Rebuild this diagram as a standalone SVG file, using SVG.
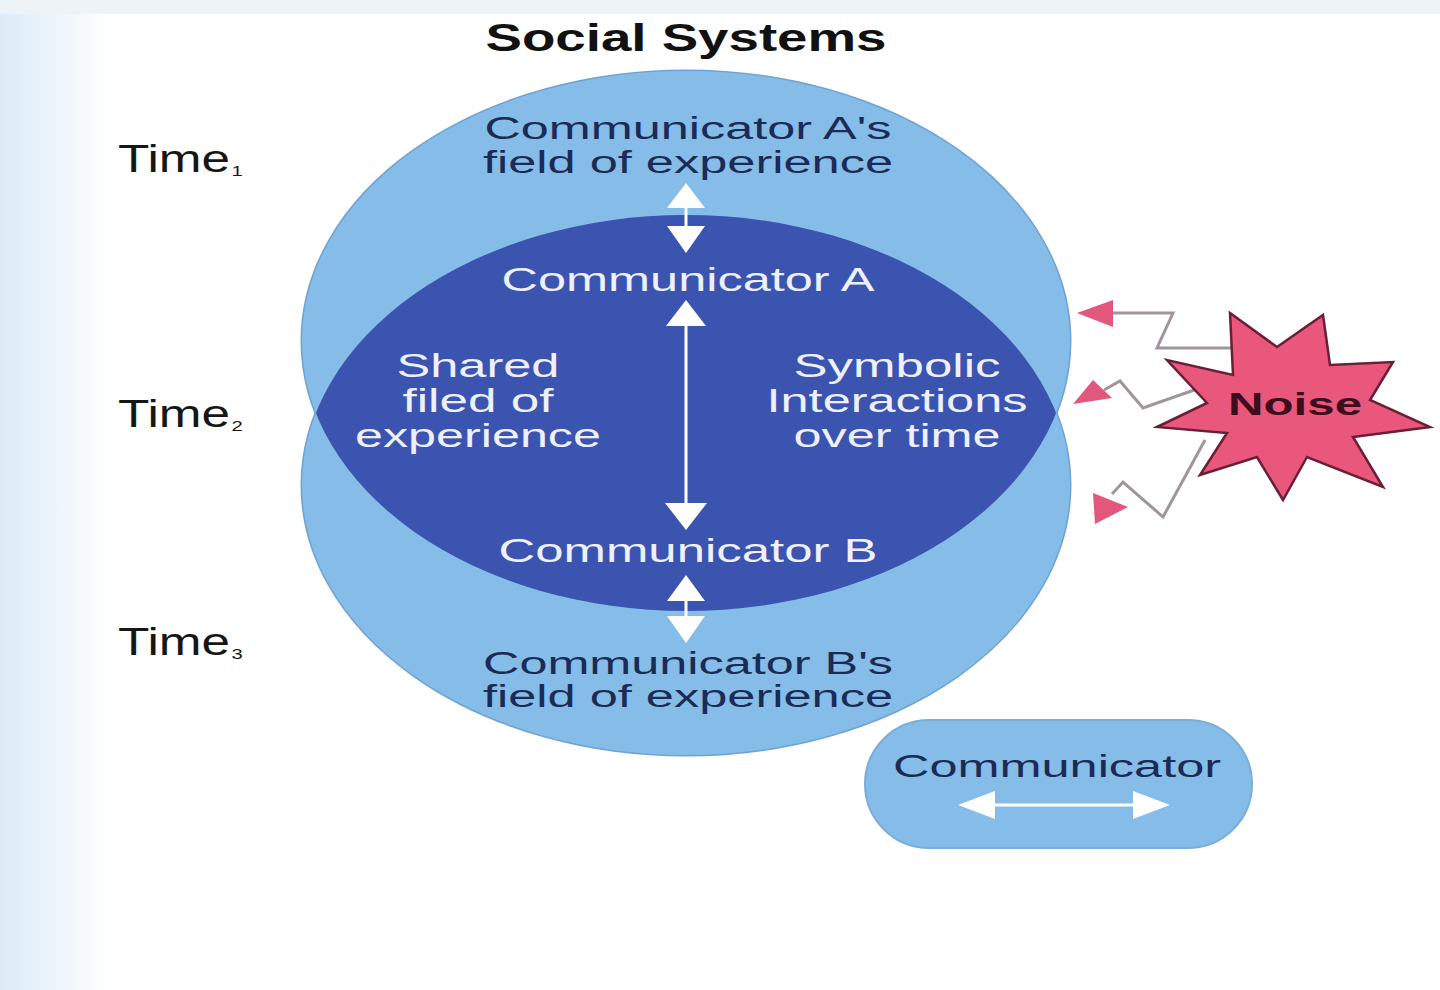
<svg xmlns="http://www.w3.org/2000/svg" width="1440" height="990" viewBox="0 0 1440 990">
<defs>
<style>
.t{font-family:"Liberation Sans",Arial,sans-serif}
.dk{fill:#1b2b55;font-size:31px}
.wh{fill:#eef0ff;font-size:33px}
.lbl{fill:#161616;font-size:38px}
.zig{fill:none;stroke:#a2949c;stroke-width:3;stroke-linejoin:miter}
.head{fill:#e2587c}
.wa{fill:#ffffff}
</style>
<linearGradient id="bgL" x1="0" y1="0" x2="1" y2="0">
<stop offset="0" stop-color="#dcebf7"/>
<stop offset="1" stop-color="#ffffff"/>
</linearGradient>
<clipPath id="clipTop"><ellipse cx="686" cy="341" rx="384" ry="270"/></clipPath>
</defs>
<rect x="0" y="0" width="1440" height="990" fill="#ffffff"/>
<rect x="0" y="0" width="110" height="990" fill="url(#bgL)"/>
<rect x="0" y="0" width="1440" height="14" fill="#eef3f8"/>

<text class="t" x="686" y="51" text-anchor="middle" font-weight="bold" font-size="38" fill="#111" textLength="401" lengthAdjust="spacingAndGlyphs">Social Systems</text>

<g id="time1"><text class="t lbl" transform="translate(118,172) scale(1.35,1)">Time<tspan font-size="15" dx="1" dy="4">1</tspan></text></g>
<g id="time2"><text class="t lbl" transform="translate(118,427) scale(1.35,1)">Time<tspan font-size="15" dx="1" dy="4">2</tspan></text></g>
<g id="time3"><text class="t lbl" transform="translate(118,655) scale(1.35,1)">Time<tspan font-size="15" dx="1" dy="4">3</tspan></text></g>

<g id="fields">
<ellipse cx="686" cy="341" rx="384" ry="270" fill="none" stroke="#6fa3d3" stroke-width="3"/>
<ellipse cx="686" cy="485" rx="384" ry="270" fill="none" stroke="#6fa3d3" stroke-width="3"/>
<ellipse cx="686" cy="341" rx="384" ry="270" fill="#85bce8"/>
<ellipse cx="686" cy="485" rx="384" ry="270" fill="#85bce8"/>
<ellipse id="shared" cx="686" cy="485" rx="384" ry="270" fill="#3b54b0" clip-path="url(#clipTop)"/>
</g>

<g id="fieldA">
<text class="t dk" x="688" y="139" text-anchor="middle" textLength="407" lengthAdjust="spacingAndGlyphs">Communicator A's</text>
<text class="t dk" x="688" y="173" text-anchor="middle" textLength="410" lengthAdjust="spacingAndGlyphs">field of experience</text>
</g>
<g id="commA">
<text class="t wh" x="688" y="291" text-anchor="middle" textLength="373" lengthAdjust="spacingAndGlyphs">Communicator A</text>
</g>
<g id="sharedText">
<text class="t wh" x="478" y="377" text-anchor="middle" textLength="163" lengthAdjust="spacingAndGlyphs">Shared</text>
<text class="t wh" x="478" y="412" text-anchor="middle" textLength="151" lengthAdjust="spacingAndGlyphs">filed of</text>
<text class="t wh" x="478" y="447" text-anchor="middle" textLength="246" lengthAdjust="spacingAndGlyphs">experience</text>
</g>
<g id="symbolic">
<text class="t wh" x="897" y="377" text-anchor="middle" textLength="207" lengthAdjust="spacingAndGlyphs">Symbolic</text>
<text class="t wh" x="897" y="412" text-anchor="middle" textLength="261" lengthAdjust="spacingAndGlyphs">Interactions</text>
<text class="t wh" x="897" y="447" text-anchor="middle" textLength="207" lengthAdjust="spacingAndGlyphs">over time</text>
</g>
<g id="commB">
<text class="t wh" x="688" y="562" text-anchor="middle" textLength="379" lengthAdjust="spacingAndGlyphs">Communicator B</text>
</g>
<g id="fieldB">
<text class="t dk" x="688" y="674" text-anchor="middle" textLength="410" lengthAdjust="spacingAndGlyphs">Communicator B's</text>
<text class="t dk" x="688" y="707" text-anchor="middle" textLength="410" lengthAdjust="spacingAndGlyphs">field of experience</text>
</g>

<g id="connectors">
<line x1="686" y1="205" x2="686" y2="230" stroke="#fff" stroke-width="3"/>
<polygon class="wa" points="686,183 705,208 667,208"/>
<polygon class="wa" points="686,253 705,226 667,226"/>
<line x1="686" y1="320" x2="686" y2="508" stroke="#fff" stroke-width="3"/>
<polygon class="wa" points="686,300 706,326 666,326"/>
<polygon class="wa" points="686,530 707,503 665,503"/>
<line x1="686" y1="598" x2="686" y2="620" stroke="#fff" stroke-width="3"/>
<polygon class="wa" points="686,575 705,601 667,601"/>
<polygon class="wa" points="686,643 705,616 667,616"/>
<polyline class="zig" points="1232,348 1157,348 1173,313 1108,313"/>
<polygon class="head" points="1077,313 1113,300 1113,327"/>
<polyline class="zig" points="1200,388 1143,408 1120,381 1104,390"/>
<polygon class="head" points="1073,404 1093,380 1112,398"/>
<polyline class="zig" points="1205,440 1163,517 1123,482 1112,494"/>
<polygon class="head" points="1093,493 1095,524 1128,507"/>
</g>

<g id="noise">
<polygon points="1230,313 1277,347 1323,315 1330,365 1393,362 1370,400 1430,427 1353,437 1383,487 1307,457 1283,500 1257,457 1200,475 1227,433 1157,427 1207,403 1167,360 1233,375" fill="#e9577c" stroke="#6a1f35" stroke-width="2.5" stroke-linejoin="miter"/>
<text class="t" x="1295" y="415" text-anchor="middle" font-weight="bold" font-size="32" fill="#3e0c1c" textLength="134" lengthAdjust="spacingAndGlyphs">Noise</text>
</g>

<g id="legend">
<rect x="865" y="720" width="387" height="128" rx="64" ry="64" fill="#85bce8" stroke="#7aaedb" stroke-width="2"/>
<text class="t dk" x="1057" y="777" text-anchor="middle" font-size="33" textLength="328" lengthAdjust="spacingAndGlyphs">Communicator</text>
<line x1="990" y1="805" x2="1138" y2="805" stroke="#fff" stroke-width="3"/>
<polygon class="wa" points="958,805 995,791 995,819"/>
<polygon class="wa" points="1170,805 1133,791 1133,819"/>
</g>
</svg>
